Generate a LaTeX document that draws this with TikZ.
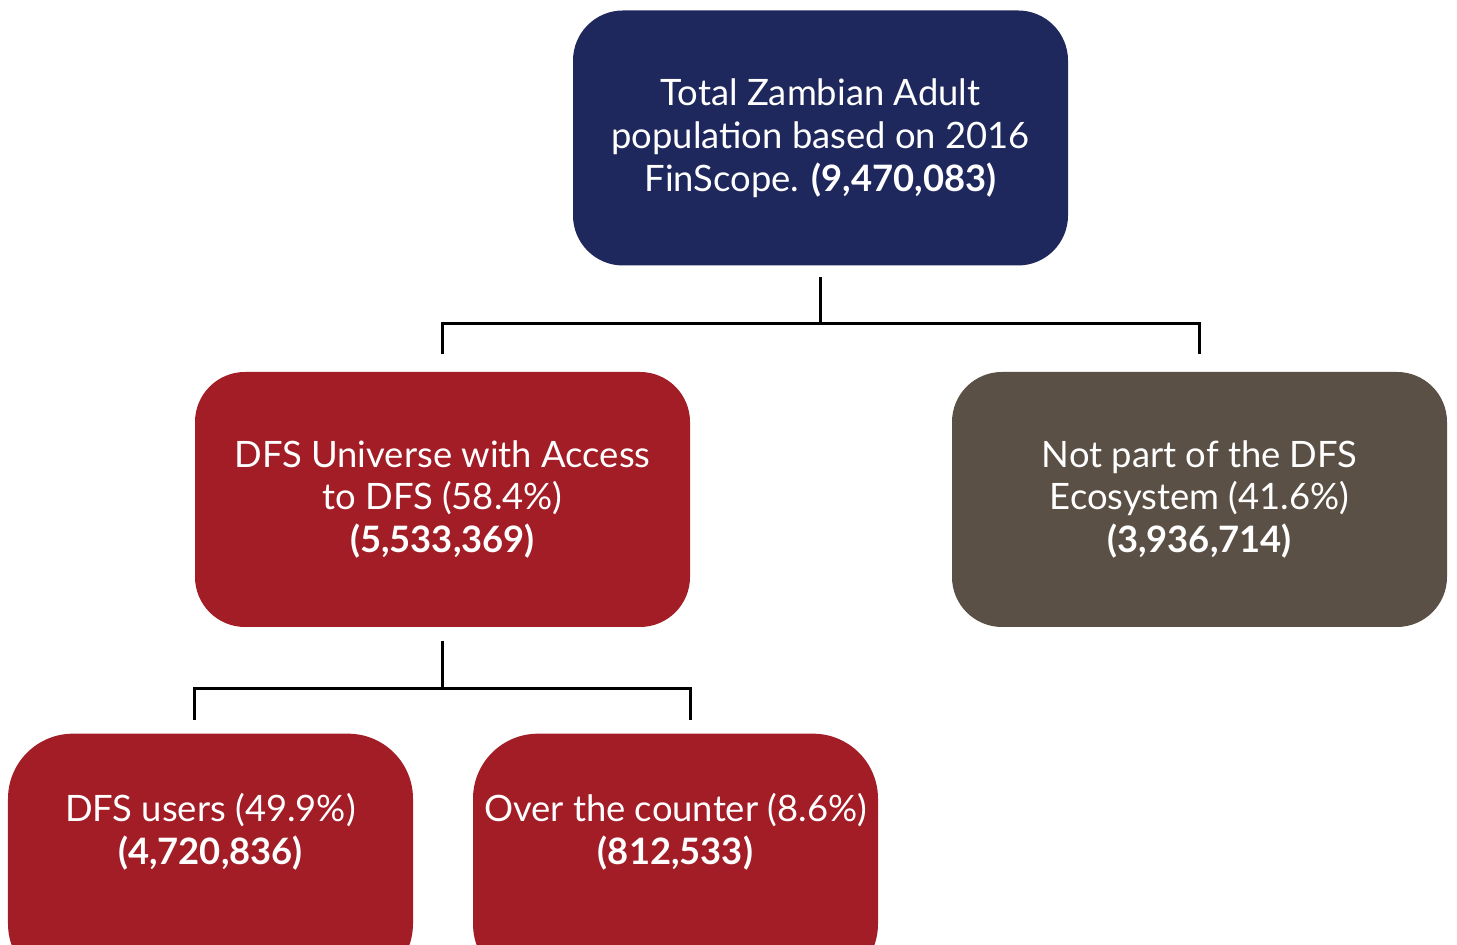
\documentclass[tikz,border=0pt]{standalone}
\usepackage{fontspec}
\setmainfont{Lato}
\usetikzlibrary{calc}
\definecolor{zamnavy}{RGB}{31,40,92}
\definecolor{zamred}{RGB}{162,29,37}
\definecolor{zambrown}{RGB}{91,80,69}

\begin{document}
\begin{tikzpicture}[
    box/.style={rectangle, rounded corners=5mm, align=center, text=white,
                minimum width=49.5mm, minimum height=25.5mm, inner sep=1mm,
                font=\fontsize{10.35}{12.2}\selectfont},
    navybox/.style={box, fill=zamnavy},
    redbox/.style={box, fill=zamred},
    greybox/.style={box, fill=zambrown},
    leafbox/.style={box, fill=zamred, rounded corners=6.5mm, minimum width=40.5mm, anchor=north},
    leaftext/.style={align=center, text=white, inner sep=0pt, font=\fontsize{10.35}{12.2}\selectfont},
    link/.style={draw=black, line width=0.9pt}
]
\useasboundingbox (0,0) rectangle (14.57,9.45);
\node[navybox] (total) at (8.205,8.07) {Total Zambian Adult\\population based on 2016\\FinScope. \textbf{(9,470,083)}};
\node[redbox] (access) at (4.425,4.455) {DFS Universe with Access\\to DFS (58.4\%)\\\textbf{(5,533,369)}};
\node[greybox] (notpart) at (11.995,4.455) {Not part of the DFS\\Ecosystem (41.6\%)\\\textbf{(3,936,714)}};
\node[leafbox] (users) at (2.105,2.12) {};
\node[leafbox] (otc) at (6.755,2.12) {};
\node[leaftext] (userstext) at ($(users.north)+(0,-0.99)$) {DFS users (49.9\%)\\\textbf{(4,720,836)}};
\node[leaftext] (otctext) at ($(otc.north)+(0,-0.99)$) {Over the counter (8.6\%)\\\textbf{(812,533)}};
% first split
\coordinate (split1) at ($(total.south)+(0,-0.57)$);
\draw[link] ($(total.south)+(0,-0.11)$) -- (split1);
\draw[link] ($(access.north)+(0,0.17)$) |- (split1) -| ($(notpart.north)+(0,0.17)$);
% second split
\coordinate (split2) at ($(access.south)+(0,-0.61)$);
\coordinate (dropL) at ($(access.west |- users.north)+(0,0.13)$);
\coordinate (dropR) at ($(access.east |- otc.north)+(0,0.13)$);
\draw[link] ($(access.south)+(0,-0.13)$) -- (split2);
\draw[link] (dropL) |- (split2) -| (dropR);
\end{tikzpicture}
\end{document}
